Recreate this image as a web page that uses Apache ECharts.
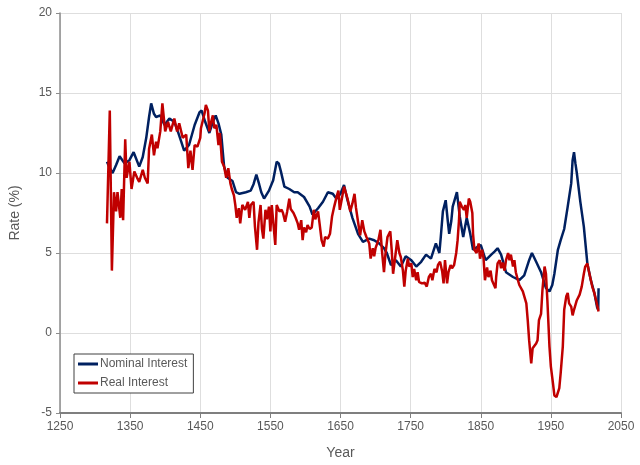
<!DOCTYPE html>
<html>
<head>
<meta charset="utf-8">
<script src="https://cdn.jsdelivr.net/npm/echarts@6/dist/echarts.min.js"></script>
<style>html,body{margin:0;padding:0;background:#fff;}#c{width:640px;height:465px;}</style>
</head>
<body>
<div id="c"></div>
<script>
const xTicks = [1250, 1350, 1450, 1550, 1650, 1750, 1850, 1950, 2050];
const yTicks = [-5, 0, 5, 10, 15, 20];
const seriesNames = ["Nominal Interest", "Real Interest"];

const nominalYears = [1317,1321,1325,1330,1335,1342,1349,1355,1363,1368,1373,1377,1380,1384,1387,1393,1399,1406,1413,1418,1423,1427,1434,1442,1449,1452,1457,1463,1468,1472,1476,1480,1484,1489,1496,1501,1506,1515,1522,1526,1530,1534,1537,1541,1548,1554,1559,1562,1565,1570,1577,1584,1589,1598,1606,1610,1618,1625,1632,1639,1644,1650,1655,1660,1667,1675,1682,1691,1698,1705,1712,1716,1722,1729,1736,1743,1751,1758,1765,1772,1779,1786,1791,1793,1796,1800,1803,1805,1808,1810,1816,1820,1825,1830,1835,1839,1846,1850,1857,1865,1870,1874,1879,1886,1896,1905,1912,1919,1923,1929,1936,1943,1948,1952,1955,1960,1964,1969,1974,1979,1981,1983,1985,1987,1992,1997,2002,2007,2012,2016,2017.5,2018];
const nominalValues = [10.7,10.3,10.0,10.5,11.05,10.6,10.8,11.3,10.4,11.0,12.2,13.5,14.35,13.7,13.5,13.6,13.0,13.4,13.2,12.6,11.95,11.4,11.75,13.0,13.8,13.9,13.2,12.5,13.2,13.6,13.1,12.4,10.4,9.7,9.5,8.8,8.7,8.8,8.9,9.3,9.9,9.3,8.8,8.4,8.9,9.55,10.7,10.6,10.1,9.15,9.0,8.8,8.8,8.5,7.9,7.4,7.8,8.2,8.8,8.7,8.4,8.7,9.25,8.3,7.2,6.2,5.7,5.9,5.8,5.6,5.3,5.0,4.25,4.55,4.15,4.8,4.55,4.15,4.45,4.9,4.65,5.6,5.0,6.0,7.6,8.3,7.0,6.2,7.0,7.9,8.8,7.3,6.0,7.2,6.2,5.2,5.4,5.5,4.55,4.9,5.1,5.3,4.9,3.8,3.5,3.3,3.6,4.55,5.0,4.45,3.8,2.8,2.6,3.0,3.7,5.2,5.8,6.5,7.9,9.35,10.8,11.3,10.6,10.0,8.2,6.65,4.35,3.3,2.5,1.6,1.45,2.8];

const realYears = [1317,1321,1324,1327,1330,1332,1336,1338,1340,1343,1345,1349,1352,1356,1360,1363,1368,1371,1375,1377,1381,1384,1387,1389,1393,1396,1400,1404,1408,1413,1417,1420,1425,1430,1433,1436,1439,1442,1446,1450,1451,1456,1458,1461,1463,1465,1468,1470,1473,1476,1478,1481,1484,1487,1490,1493,1495,1498,1500,1502,1505,1507,1510,1514,1518,1520,1522,1526,1528,1531,1533,1536,1538,1540,1543,1545,1548,1550,1552,1555,1557,1559,1563,1566,1568,1571,1574,1577,1579,1583,1586,1589,1591,1594,1596,1598,1601,1603,1606,1609,1612,1614,1618,1620,1623,1626,1628,1632,1635,1638,1641,1645,1647,1649,1652,1655,1657,1660,1664,1667,1670,1672,1675,1678,1681,1684,1687,1691,1693,1696,1698,1700,1704,1707,1709,1712,1714,1717,1721,1723,1725,1728,1731,1734,1736,1739,1741,1743,1746,1748,1751,1753,1755,1758,1760,1762,1766,1770,1773,1776,1779,1781,1784,1787,1789,1792,1795,1797,1799,1802,1804,1807,1809,1812,1815,1817,1819,1820,1823,1826,1828,1830,1833,1835,1838,1839,1841,1844,1847,1849,1852,1854,1856,1859,1861,1864,1866,1868,1871,1872,1874,1877,1879,1881,1884,1886,1889,1891,1893,1896,1898,1900,1903,1905,1910,1912,1915,1917,1919,1922,1924,1929,1931,1933,1936,1938,1941,1943,1945,1948,1950,1953,1955,1958,1962,1964,1967,1969,1972,1974,1976,1979,1981,1983,1987,1991,1994,1997,1999,2002,2004,2006,2009,2012,2016,2018];
const realValues = [6.85,13.9,3.9,8.8,7.6,8.8,7.2,9.0,7.05,12.1,9.7,10.7,9.0,10.1,9.7,9.45,10.2,9.7,9.35,11.5,12.4,11.1,11.95,11.55,12.6,14.35,12.6,13.2,12.6,13.4,12.6,13.1,12.2,12.4,10.3,11.4,10.2,11.75,11.65,12.2,12.8,13.7,14.25,13.9,12.6,13.1,13.6,12.8,13.0,11.75,12.5,10.7,10.4,9.7,10.3,9.35,9.0,8.6,8.0,7.2,7.8,6.85,8.0,7.7,8.2,7.2,8.0,8.2,6.65,5.2,6.9,8.0,6.5,5.9,7.7,7.1,7.9,6.35,8.0,6.5,5.5,8.0,7.6,7.7,7.5,6.95,7.6,8.4,7.75,7.5,7.2,6.85,6.45,7.05,5.8,6.6,6.3,6.75,6.5,6.6,7.7,7.1,7.6,6.9,5.8,5.4,6.0,5.9,6.2,7.3,7.9,8.6,8.9,7.7,8.4,9.15,9.15,8.4,7.6,8.1,8.7,7.85,6.95,6.1,7.05,6.35,6.0,5.6,4.65,5.3,4.8,5.3,5.8,6.45,5.2,3.8,4.9,6.0,6.35,5.2,3.7,4.75,5.8,5.0,4.75,3.9,2.9,3.9,4.65,4.15,4.35,3.5,4.0,3.3,3.8,3.2,3.1,3.15,2.9,3.5,3.7,3.3,4.0,3.8,4.25,4.45,3.85,3.1,4.55,3.1,3.8,4.25,4.05,4.25,5.0,5.8,7.05,8.2,7.9,7.7,8.0,7.2,8.4,8.2,7.5,6.2,5.2,5.0,5.6,4.65,5.2,4.65,3.3,4.1,3.5,3.9,3.3,3.1,2.8,3.5,4.35,4.55,4.05,4.4,3.9,4.55,5.0,4.55,4.9,4.15,4.55,3.8,3.3,3.0,2.6,2.5,1.85,0.8,-0.45,-1.9,-0.95,-0.65,-0.45,0.8,1.2,2.7,4.15,3.7,2.05,-0.85,-2.1,-3.15,-3.9,-4.0,-3.45,-2.5,-0.85,1.45,2.3,2.5,1.85,1.65,1.1,1.45,2.05,2.4,2.9,3.7,4.15,4.35,3.9,3.5,2.9,2.5,1.75,1.35];

const pairs = (xs, ys) => xs.map((x, i) => [x, ys[i]]);
const FONT = '"Liberation Sans", Arial, sans-serif';
const chart = echarts.init(document.getElementById('c'), null, {renderer: 'canvas'});
chart.setOption({
  animation: false,
  backgroundColor: '#ffffff',
  textStyle: {fontFamily: FONT},
  grid: {left: 59, right: 19, top: 13, bottom: 52},
  legend: {
    orient: 'vertical',
    left: 74, top: 354,
    data: seriesNames,
    icon: 'rect',
    itemWidth: 20, itemHeight: 3,
    itemGap: 7,
    padding: [4, 6, 4, 4],
    borderColor: '#404040', borderWidth: 1,
    backgroundColor: '#ffffff',
    textStyle: {color: '#595959', fontSize: 12, fontFamily: FONT, padding: [0,0,0,-3]}
  },
  xAxis: {
    type: 'value',
    min: xTicks[0], max: xTicks[xTicks.length - 1], interval: 100,
    name: 'Year', nameLocation: 'middle', nameGap: 33,
    nameTextStyle: {color: '#595959', fontSize: 14, fontFamily: FONT},
    axisLine: {show: true, onZero: false, lineStyle: {color: '#7f7f7f', width: 2}},
    axisTick: {show: true, length: 5, lineStyle: {color: '#7f7f7f', width: 1}},
    axisLabel: {color: '#595959', fontSize: 12, margin: 8, fontFamily: FONT, formatter: v => String(v)},
    splitLine: {show: true, lineStyle: {color: '#dedede', width: 1}}
  },
  yAxis: {
    type: 'value',
    min: yTicks[0], max: yTicks[yTicks.length - 1], interval: 5,
    name: 'Rate (%)', nameLocation: 'middle', nameGap: 38,
    nameTextStyle: {color: '#595959', fontSize: 14, fontFamily: FONT},
    axisLine: {show: true, onZero: false, lineStyle: {color: '#8c8c8c', width: 1.5}},
    axisTick: {show: true, length: 4, lineStyle: {color: '#8c8c8c'}},
    axisLabel: {color: '#595959', fontSize: 12, margin: 8, fontFamily: FONT, formatter: v => String(v)},
    splitLine: {show: true, lineStyle: {color: '#dedede', width: 1}}
  },
  series: [
    {name: seriesNames[0], type: 'line', data: pairs(nominalYears, nominalValues), showSymbol: false, symbol: 'none',
     lineStyle: {color: '#002060', width: 2.5}, itemStyle: {color: '#002060'}, z: 2},
    {name: seriesNames[1], type: 'line', data: pairs(realYears, realValues), showSymbol: false, symbol: 'none',
     lineStyle: {color: '#c00000', width: 2.5}, itemStyle: {color: '#c00000'}, z: 3}
  ]
});
</script>
</body>
</html>
